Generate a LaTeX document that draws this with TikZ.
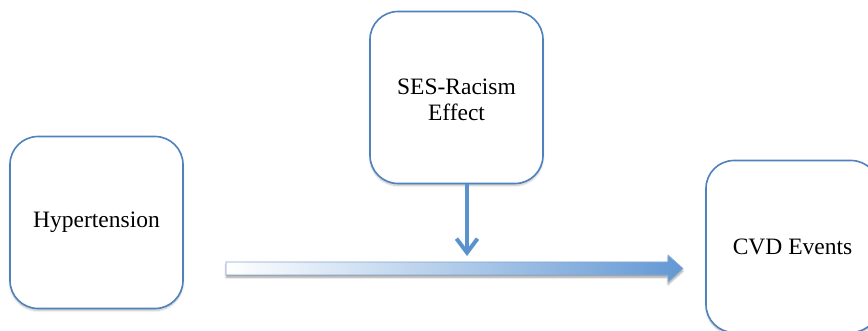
\documentclass[tikz,border=0pt]{standalone}
\usepackage{fontspec}
\setmainfont{Liberation Serif}
\usetikzlibrary{arrows.meta,calc,shadows.blur}
\definecolor{boxblue}{RGB}{79,129,189}
\definecolor{arrowblue}{RGB}{98,152,212}
\definecolor{lineblue}{RGB}{90,146,206}
\begin{document}
\begin{tikzpicture}
  [x=1pt,y=-1pt,
   every node/.style={draw=boxblue,line width=1.6pt,fill=white,rounded corners=28pt,
     minimum width=173pt,minimum height=172pt,
     font=\fontsize{23.5}{26}\selectfont,
     blur shadow={shadow xshift=0pt,shadow yshift=-2pt,shadow blur steps=6,shadow opacity=25}}]
  \clip (0,0) rectangle (868,331);
  \node (n1) at (96.5,222.5) {Hypertension};
  \node (n2) at (456.5,97.5)
    {\raisebox{-5pt}[\height][\depth]{\begin{tabular}{@{}c@{}}SES-Racism\\Effect\end{tabular}}};
  \node (n3) at (792.5,246.5) {CVD Events};

  \coordinate (a1) at (226,268.5);
  \coordinate (a2) at (683,268.5);
  \coordinate (m) at (467,256);

  \draw[boxblue!70,line width=0.6pt,left color=white,right color=arrowblue,
    blur shadow={shadow xshift=0pt,shadow yshift=-2.5pt,shadow blur steps=5,shadow opacity=35}]
    (a1) ++(0,-6.5) -- (668,262) -- (668,255) -- (a2) -- (668,282) -- (668,275)
    -- ($(a1)+(0,6.5)$) -- cycle;

  \draw[lineblue,line width=4pt,-{Straight Barb[length=14pt,width=21pt]}] (n2.south -| m) -- (m);
\end{tikzpicture}
\end{document}
